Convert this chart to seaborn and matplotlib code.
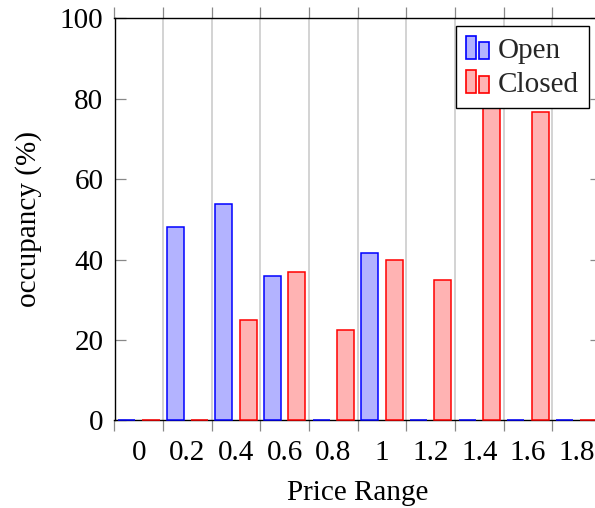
import numpy as np
import pandas as pd
import matplotlib
matplotlib.use("Agg")
import matplotlib.pyplot as plt
import seaborn as sns
from matplotlib.patches import Rectangle
from matplotlib.legend_handler import HandlerBase

categories = ["0", "0.2", "0.4", "0.6", "0.8", "1", "1.2", "1.4", "1.6", "1.8"]
open_vals = [0, 48.1, 53.7, 35.9, 0, 41.5, 0, 0, 0, 0]
closed_vals = [0, 0, 24.9, 36.9, 22.4, 40.0, 35.0, 82.0, 76.6, 0]
series = ["Open", "Closed"]
fills = {"Open": "#b3b3ff", "Closed": "#ffb3b3"}
edges = {"Open": "#0000ff", "Closed": "#ff0000"}

df = pd.DataFrame({
    "Price Range": categories * 2,
    "occupancy": open_vals + closed_vals,
    "status": ["Open"] * len(categories) + ["Closed"] * len(categories),
})

FS = 21
sns.set_theme(style="white")
plt.rcParams['font.family'] = ['Liberation Serif', 'DejaVu Serif']
plt.rcParams['font.size'] = FS

fig = plt.figure(figsize=(5.95, 5.08), dpi=100)
ax = fig.add_axes([114.5 / 595, 1 - 420.3 / 508, (601 - 114.5) / 595, (420.3 - 18.3) / 508])

sns.barplot(data=df, x="Price Range", y="occupancy", hue="status",
            order=categories, hue_order=series, palette=fills,
            width=1.0, gap=0.3, saturation=1, linewidth=1.1,
            ax=ax, legend=False, zorder=3)
for cont, s in zip(ax.containers, series):
    for p in cont:
        p.set_edgecolor(edges[s])
        p.set_facecolor(fills[s])
        p.set_clip_on(False)

ax.set_xlim(-0.5, 9.5)
ax.set_ylim(0, 100)
major = np.arange(-0.5, 10, 1)
ax.set_xticks(major, labels=[""] * len(major))
ax.set_xticks(np.arange(len(categories)), labels=categories, minor=True)
ax.tick_params(axis='x', which='major', direction='out', length=8, width=0.9,
               color='#888888', top=True, bottom=True)
ax.tick_params(axis='x', which='minor', length=0, pad=14.5, labelsize=FS, labelcolor='black')
ax.set_yticks(range(0, 101, 20))
ax.tick_params(axis='y', direction='in', length=8, width=0.9, color='#888888',
               left=True, right=True, pad=8, labelsize=FS, labelcolor='black')
ax.grid(axis='x', which='major', color='#cccccc', lw=1.2)
ax.grid(axis='y', visible=False)
ax.set_axisbelow(True)
for sp in ax.spines.values():
    sp.set_color('black')
    sp.set_linewidth(1.0)
    sp.set_visible(True)

ax.set_xlabel("Price Range", fontsize=FS, color='black')
ax.set_ylabel("occupancy (%)", fontsize=FS, color='black')
ax.xaxis.set_label_coords(0.5, -0.148)
ax.yaxis.set_label_coords(-0.149, 0.5)


class TwoBarHandler(HandlerBase):
    def create_artists(self, legend, orig_handle, xdescent, ydescent, width, height, fontsize, trans):
        fc = orig_handle.get_facecolor()
        ec = orig_handle.get_edgecolor()
        w = width * 0.42
        r1 = Rectangle((-xdescent, -ydescent), w, height, facecolor=fc, edgecolor=ec, lw=1.2, transform=trans)
        r2 = Rectangle((-xdescent + width * 0.58, -ydescent), w, height * 0.75, facecolor=fc, edgecolor=ec, lw=1.2, transform=trans)
        return [r1, r2]


handles = [Rectangle((0, 0), 1, 1, facecolor=fills[s], edgecolor=edges[s]) for s in series]
leg = ax.legend(handles, series, handler_map={Rectangle: TwoBarHandler()},
                loc='upper right', bbox_to_anchor=(589 / 595, 1 - 26 / 508),
                bbox_transform=fig.transFigure, borderaxespad=0,
                handlelength=0.8, handleheight=0.85, handletextpad=0.3,
                borderpad=0.35, labelspacing=0.2, fontsize=FS,
                frameon=True, fancybox=False, framealpha=1, edgecolor='black')
leg.get_frame().set_linewidth(1.0)
leg.set_zorder(10)

fig.savefig("out.png", dpi=100)
